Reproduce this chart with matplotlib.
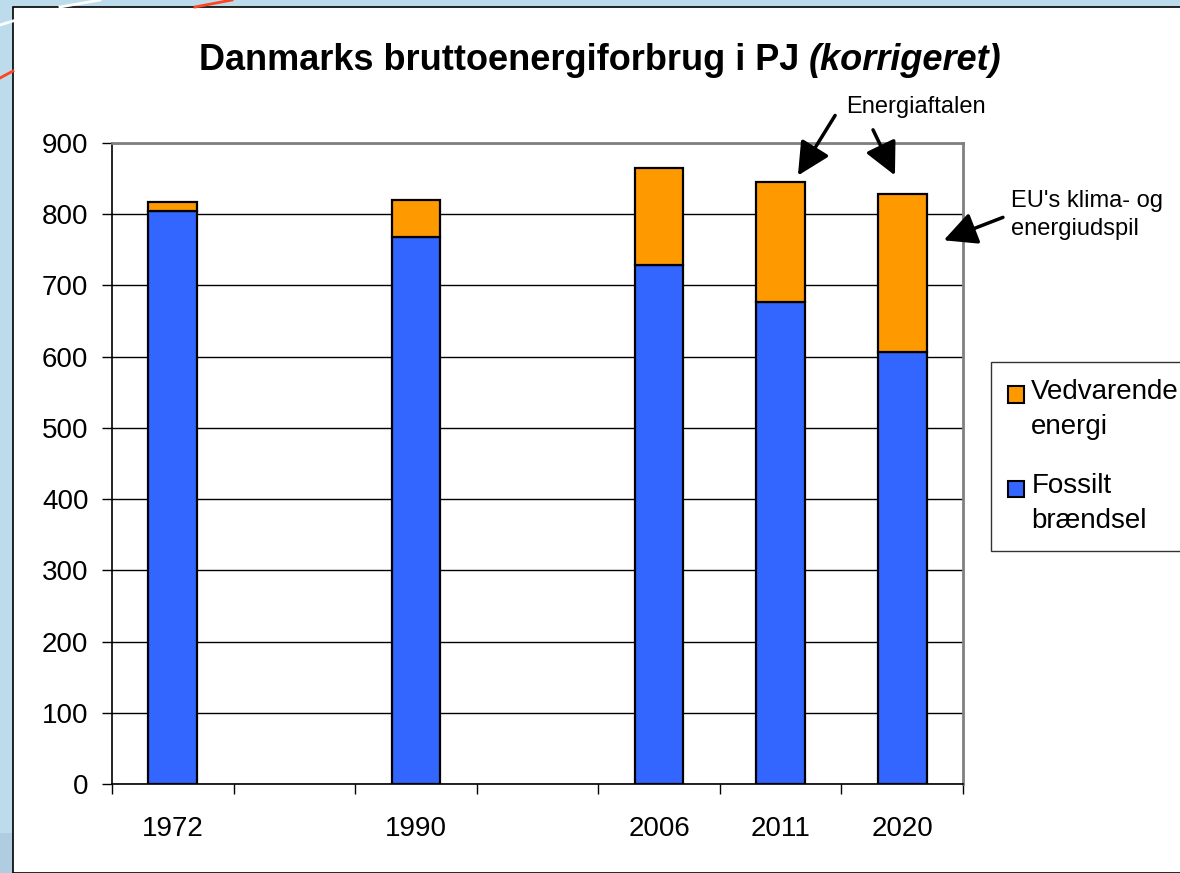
import numpy as np
import matplotlib as mpl
mpl.use('Agg')
import matplotlib.pyplot as plt
from matplotlib.patches import Rectangle, Patch
from matplotlib.lines import Line2D
from matplotlib.legend_handler import HandlerPatch

plt.rcParams['font.family'] = ['Liberation Sans', 'DejaVu Sans']

# data (PJ)
years = ['1972', '', '1990', '', '2006', '2011', '2020']
fossil = [804, 0, 768, 0, 729, 677, 607]
renewable = [13, 0, 52, 0, 136, 168, 222]
yticks = [0, 100, 200, 300, 400, 500, 600, 700, 800, 900]

W, H = 1180, 873
fig = plt.figure(figsize=(11.8, 8.73), dpi=100, facecolor='#bcdcec')

# slide background + white panel
fig.add_artist(Rectangle((0, 0), 13 / W, 40 / H, transform=fig.transFigure,
                         facecolor='#b0cce0', edgecolor='none', zorder=0))
fig.add_artist(Line2D([0, 13 / W], [1 - 78 / H, 1 - 71 / H], color='#ff4422', lw=2,
                      transform=fig.transFigure))
fig.add_artist(Line2D([0, 13 / W], [1 - 25 / H, 1 - 21 / H], color='white', lw=2,
                      transform=fig.transFigure))
fig.add_artist(Line2D([195 / W, 232 / W], [1 - 7 / H, 1], color='#ff4422', lw=2,
                      transform=fig.transFigure))
fig.add_artist(Line2D([60 / W, 100 / W], [1 - 7 / H, 1], color='white', lw=2,
                      transform=fig.transFigure))
fig.add_artist(Rectangle((13 / W, 0), 1, 1 - 7 / H, transform=fig.transFigure,
                         facecolor='white', edgecolor='black', lw=1.2, zorder=0))

ax = fig.add_axes([112 / W, 1 - 784 / H, (963 - 112) / W, (784 - 143) / H])
ax.set_facecolor('none')

x = np.arange(len(years))
has = np.array([v > 0 for v in fossil])
fos = np.array(fossil)
ren = np.array(renewable)
ax.bar(x[has], fos[has], width=0.4, color='#3366ff', edgecolor='black', lw=1.6, zorder=3)
ax.bar(x[has], ren[has], width=0.4, bottom=fos[has], color='#ff9900',
       edgecolor='black', lw=1.6, zorder=3)

ax.set_xlim(-0.5, len(years) - 0.5)
ax.set_ylim(0, 900)
ax.set_yticks(yticks)
ax.set_yticklabels([str(v) for v in yticks], fontsize=20)
ax.yaxis.grid(True, color='black', lw=1)
ax.set_axisbelow(True)

ax.set_xticks(x)
ax.set_xticklabels(years, fontsize=20)
ax.set_xticks(np.arange(len(years) + 1) - 0.5, minor=True)
ax.tick_params(axis='x', which='major', length=0, pad=23)
ax.tick_params(axis='x', which='minor', length=7, width=1, direction='out')
ax.tick_params(axis='y', length=7, width=1, pad=10)

for s in ['top', 'right']:
    ax.spines[s].set_color('#808080')
    ax.spines[s].set_linewidth(2)
for s in ['left', 'bottom']:
    ax.spines[s].set_color('black')
    ax.spines[s].set_linewidth(1.2)

# title: bold part + bold italic part, centred together
r = fig.canvas.get_renderer()
t1 = fig.text(0, 1 - 60 / H, 'Danmarks bruttoenergiforbrug i PJ ', ha='left',
              va='center', fontsize=26, fontweight='bold')
t2 = fig.text(0, 1 - 60 / H, '(korrigeret)', ha='left', va='center', fontsize=26,
              fontweight='bold', fontstyle='italic')
w1 = t1.get_window_extent(r).width
w2 = t2.get_window_extent(r).width
x0 = 600 - (w1 + w2) / 2
t1.set_x(x0 / W)
t2.set_x((x0 + w1) / W)

# arrows and notes
ap = dict(arrowstyle='-|>', color='black', lw=2.5, mutation_scale=50)
ax.annotate('', xy=(5.13, 851), xytext=(5.46, 942), arrowprops=ap, annotation_clip=False)
ax.annotate('', xy=(5.95, 851), xytext=(5.75, 922), arrowprops=ap, annotation_clip=False)
ax.annotate('', xy=(6.32, 762), xytext=(6.85, 797), arrowprops=ap, annotation_clip=False)
fig.text(916 / W, 1 - 107 / H, 'Energiaftalen', ha='center', va='center', fontsize=17)
fig.text(1011 / W, 1 - 215 / H, "EU's klima- og\nenergiudspil", ha='left', va='center',
         fontsize=17, linespacing=1.35)


def top_square(legend, orig_handle, xdescent, ydescent, width, height, fontsize):
    s = 0.58 * fontsize
    return Rectangle((-xdescent, -ydescent + height - s), s, s)


handles = [Patch(facecolor='#ff9900', edgecolor='black', lw=1.5),
           Patch(facecolor='#3366ff', edgecolor='black', lw=1.5)]
leg = fig.legend(handles, ['Vedvarende\nenergi', 'Fossilt\nbrændsel'],
                 loc='upper left', bbox_to_anchor=(991 / W, 1 - 362 / H),
                 fontsize=20, frameon=True, fancybox=False, borderaxespad=0,
                 handlelength=0.6, handleheight=2.3, handletextpad=0.25,
                 labelspacing=1.2, borderpad=0.6,
                 handler_map={Patch: HandlerPatch(patch_func=top_square)})
for t in leg.get_texts():
    t.set_linespacing(1.45)
leg.get_frame().set_edgecolor('black')
leg.get_frame().set_linewidth(1)

plt.savefig('out.png', dpi=100, facecolor=fig.get_facecolor())
plt.close()
